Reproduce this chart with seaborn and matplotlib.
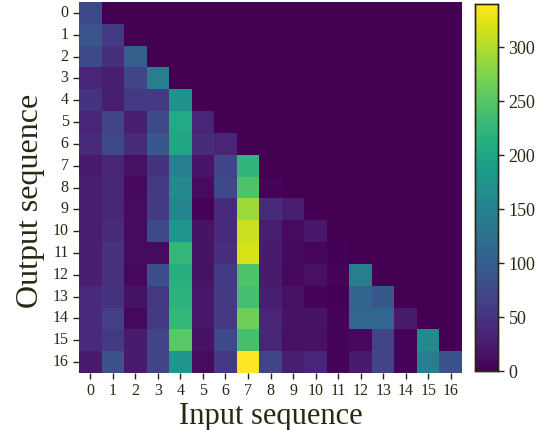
import numpy as np
import pandas as pd
import matplotlib
matplotlib.use("Agg")
import matplotlib.pyplot as plt
import seaborn as sns

plt.rcParams['font.family'] = ['Liberation Serif', 'DejaVu Serif']
TXT = '#2a2814'

labels = [str(i) for i in range(17)]

# lower-triangular attention-like counts (rows: output, cols: input)
row0 = [75]
row1 = [90, 58]
row2 = [75, 45, 100]
row3 = [35, 28, 68, 145]
row4 = [50, 28, 58, 58, 170]
row5 = [35, 68, 28, 75, 205, 35]
row6 = [40, 75, 40, 92, 200, 42, 35]
row7 = [24, 35, 14, 50, 143, 18, 68, 222]
row8 = [28, 35, 7, 58, 160, 10, 75, 245, 3]
row9 = [28, 35, 10, 58, 155, 3, 40, 290, 40, 28]
row10 = [28, 40, 10, 75, 178, 17, 40, 313, 28, 10, 20]
row11 = [28, 50, 10, 10, 225, 17, 45, 320, 24, 8, 5, 2]
row12 = [28, 48, 7, 82, 215, 17, 58, 245, 24, 7, 14, 3, 145]
row13 = [40, 50, 17, 55, 218, 20, 58, 238, 28, 14, 3, 2, 110, 92]
row14 = [40, 62, 7, 58, 225, 20, 58, 265, 35, 17, 17, 3, 112, 112, 24]
row15 = [40, 58, 24, 68, 252, 17, 75, 240, 35, 14, 14, 3, 7, 68, 3, 160]
row16 = [24, 85, 24, 68, 178, 10, 58, 340, 68, 28, 35, 3, 24, 68, 3, 143, 85]

rows = [row0, row1, row2, row3, row4, row5, row6, row7, row8, row9,
        row10, row11, row12, row13, row14, row15, row16]
mat = np.zeros((17, 17))
for i, r in enumerate(rows):
    mat[i, :len(r)] = r
df = pd.DataFrame(mat, index=labels, columns=labels)

fig = plt.figure(figsize=(5.46, 4.30), dpi=100)
ax = fig.add_axes([79/546, (430-373)/430, 383/546, 371/430])
cax = fig.add_axes([475/546, (430-371)/430, 23/546, 367/430])

sns.heatmap(df, ax=ax, cbar_ax=cax, cmap='viridis', vmin=0, vmax=340)

ax.tick_params(axis='both', labelsize=11.5, colors=TXT, length=4, width=1)
ax.set_yticklabels(labels, rotation=0)
ax.set_xticklabels(labels, rotation=0)
ax.set_xlabel('Input sequence', fontsize=22, color=TXT, labelpad=2)
ax.set_ylabel('Output sequence', fontsize=23, color=TXT, labelpad=6)
ax.yaxis.set_label_coords(-0.09, 0.465)

cax.tick_params(labelsize=13, colors=TXT, length=4, width=1)
cax.set_yticks([0, 50, 100, 150, 200, 250, 300])
for s in cax.spines.values():
    s.set_visible(True)
    s.set_color(TXT)
    s.set_linewidth(1)

fig.savefig('out.png', dpi=100)
